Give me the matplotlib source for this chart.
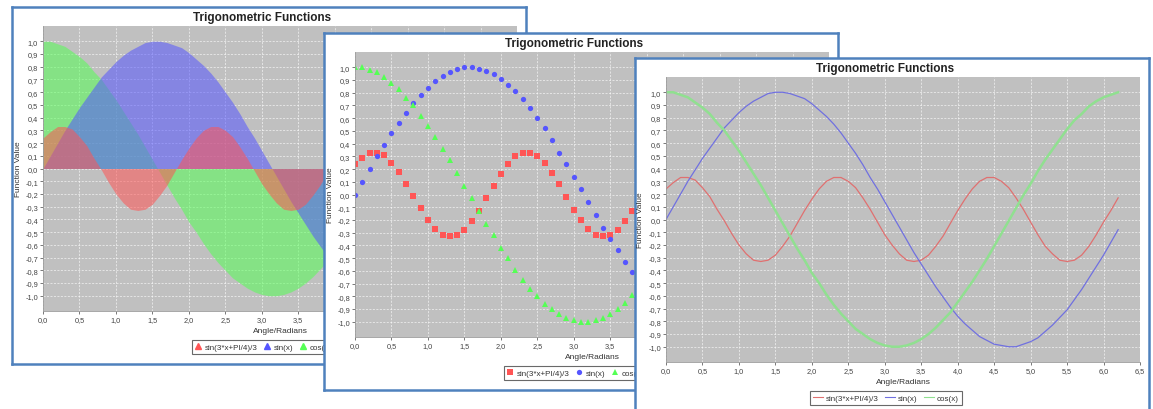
import matplotlib.pyplot as plt
from matplotlib.lines import Line2D

plt.rcParams['font.family'] = ['Liberation Sans', 'DejaVu Sans']

# values (x step 0.1 from 0.0 to 6.2)
x = [0.0, 0.1, 0.2, 0.3, 0.4, 0.5, 0.6, 0.7, 0.8, 0.9,
     1.0, 1.1, 1.2, 1.3, 1.4, 1.5, 1.6, 1.7, 1.8, 1.9,
     2.0, 2.1, 2.2, 2.3, 2.4, 2.5, 2.6, 2.7, 2.8, 2.9,
     3.0, 3.1, 3.2, 3.3, 3.4, 3.5, 3.6, 3.7, 3.8, 3.9,
     4.0, 4.1, 4.2, 4.3, 4.4, 4.5, 4.6, 4.7, 4.8, 4.9,
     5.0, 5.1, 5.2, 5.3, 5.4, 5.5, 5.6, 5.7, 5.8, 5.9,
     6.0, 6.1, 6.2]

sin3 = [0.24, 0.29, 0.33, 0.33, 0.31, 0.25, 0.18, 0.08, -0.01, -0.11,
        -0.20, -0.27, -0.32, -0.33, -0.32, -0.28, -0.21, -0.13, -0.03, 0.07,
        0.16, 0.24, 0.30, 0.33, 0.33, 0.30, 0.25, 0.17, 0.08, -0.02,
        -0.12, -0.20, -0.27, -0.32, -0.33, -0.32, -0.28, -0.21, -0.13, -0.03,
        0.07, 0.16, 0.24, 0.30, 0.33, 0.33, 0.30, 0.25, 0.17, 0.08,
        -0.02, -0.12, -0.21, -0.27, -0.32, -0.33, -0.32, -0.28, -0.21, -0.12,
        -0.02, 0.07, 0.17]

sinx = [0.00, 0.10, 0.20, 0.30, 0.39, 0.48, 0.56, 0.64, 0.72, 0.78,
        0.84, 0.89, 0.93, 0.96, 0.99, 1.00, 1.00, 0.99, 0.97, 0.95,
        0.91, 0.86, 0.81, 0.75, 0.68, 0.60, 0.52, 0.43, 0.33, 0.24,
        0.14, 0.04, -0.06, -0.16, -0.26, -0.35, -0.44, -0.53, -0.61, -0.69,
        -0.76, -0.82, -0.87, -0.92, -0.95, -0.98, -0.99, -1.00, -1.00, -0.98,
        -0.96, -0.93, -0.88, -0.83, -0.77, -0.71, -0.63, -0.55, -0.46, -0.37,
        -0.28, -0.18, -0.08]

cosx = [1.00, 1.00, 0.98, 0.96, 0.92, 0.88, 0.83, 0.76, 0.70, 0.62,
        0.54, 0.45, 0.36, 0.27, 0.17, 0.07, -0.03, -0.13, -0.23, -0.32,
        -0.42, -0.50, -0.59, -0.67, -0.74, -0.80, -0.86, -0.90, -0.94, -0.97,
        -0.99, -1.00, -1.00, -0.99, -0.97, -0.94, -0.90, -0.85, -0.79, -0.73,
        -0.65, -0.57, -0.49, -0.40, -0.31, -0.21, -0.11, -0.01, 0.09, 0.19,
        0.28, 0.38, 0.47, 0.55, 0.63, 0.71, 0.78, 0.83, 0.89, 0.93,
        0.96, 0.98, 1.00]

labels = ["sin(3*x+PI/4)/3", "sin(x)", "cos(x)"]
xticks = [0.0, 0.5, 1.0, 1.5, 2.0, 2.5, 3.0, 3.5, 4.0, 4.5, 5.0, 5.5, 6.0, 6.5]
yticks = [-1.0, -0.9, -0.8, -0.7, -0.6, -0.5, -0.4, -0.3, -0.2, -0.1, 0.0,
          0.1, 0.2, 0.3, 0.4, 0.5, 0.6, 0.7, 0.8, 0.9, 1.0]

series = [sin3, sinx, cosx]
colors = ["#ff5555", "#5555ff", "#55ff55"]

W, H = 1153, 410
fig = plt.figure(figsize=(W / 100, H / 100), dpi=100)
fig.patch.set_facecolor("white")


def rect(px, py, w, h):
    return [px / W, 1 - (py + h) / H, w / W, h / H]


PW, PH = 514, 357
PL, PT, AW, AH = 31, 19, 474, 285


def panel(ox, oy, kind, z, covered_from=None):
    frame = fig.add_axes(rect(ox, oy, PW, PH), zorder=z)
    frame.set_facecolor("white")
    frame.set_xticks([])
    frame.set_yticks([])
    for s in frame.spines.values():
        s.set_color("#4f81bd")
        s.set_linewidth(1.8)
    frame.text((PW / 2 - 7) / PW, 1 - 10 / PH, "Trigonometric Functions",
               transform=frame.transAxes, ha="center", va="center",
               fontsize=8.5, fontweight="bold", color="#222222")

    ax = fig.add_axes(rect(ox + PL, oy + PT, AW, AH), zorder=z + 1)
    ax.set_facecolor("#c0c0c0")
    ax.set_xlim(0, 6.5)
    ax.set_ylim(-1.12, 1.12)
    ax.set_xticks(xticks)
    ax.set_yticks(yticks)
    # tick labels lying under the next screenshot are not shown
    ax.set_xticklabels([f"{v:.1f}".replace(".", ",")
                        if covered_from is None or v < covered_from else ""
                        for v in xticks])
    ax.set_yticklabels([f"{v:.1f}".replace(".", ",") for v in yticks])
    ax.tick_params(labelsize=5.3, colors="#444444", length=2, width=0.5, pad=1.5)
    ax.grid(True, color="white", linestyle=(0, (3, 2)), linewidth=0.5, alpha=0.8)
    ax.set_axisbelow(True)
    for s in ax.spines.values():
        s.set_visible(False)
    ax.spines["left"].set_visible(True)
    ax.spines["bottom"].set_visible(True)
    ax.spines["left"].set_color("#999999")
    ax.spines["bottom"].set_color("#999999")
    ax.spines["left"].set_linewidth(0.6)
    ax.spines["bottom"].set_linewidth(0.6)

    ax.text(0.5, -20 / AH, "Angle/Radians", transform=ax.transAxes,
            ha="center", va="center", fontsize=6, color="#333333")
    ax.text(-25 / AW, 0.5, "Function Value", transform=ax.transAxes,
            ha="center", va="center", rotation=90, fontsize=6, color="#333333")

    if kind == "area":
        for i in [2, 1, 0]:
            ax.fill_between(x, 0, series[i], color=colors[i], alpha=0.55,
                            linewidth=0)
        handles = [Line2D([], [], linestyle="none", marker="^", ms=4,
                          color=c) for c in colors]
    elif kind == "scatter":
        markers = ["s", "o", "^"]
        for i in range(3):
            ax.plot(x, series[i], linestyle="none", marker=markers[i], ms=3.8,
                    color=colors[i], markeredgewidth=0)
        handles = [Line2D([], [], linestyle="none", marker=m, ms=3.8,
                          color=c, markeredgewidth=0)
                   for m, c in zip(markers, colors)]
    else:
        lw = [0.9, 0.9, 1.8]
        lc = ["#e07070", "#7070e0", "#90e090"]
        for i in range(3):
            ax.plot(x, series[i], color=lc[i], linewidth=lw[i])
        handles = [Line2D([], [], color=c, linewidth=0.8) for c in lc]

    leg_x = (ox + PW / 2 - 6) / W
    leg_y = 1 - (oy + 340) / H
    leg = ax.legend(handles, labels, ncol=3, loc="center",
                    bbox_to_anchor=(leg_x, leg_y),
                    bbox_transform=fig.transFigure, fontsize=5.8,
                    frameon=True, fancybox=False, handlelength=1.2 if kind == "line" else 0.8,
                    handletextpad=0.4, columnspacing=0.8, borderpad=0.35)
    leg.get_frame().set_edgecolor("#444444")
    leg.get_frame().set_linewidth(0.8)
    for t in leg.get_texts():
        t.set_color("#333333")


panel(12, 8, "area", 1, covered_from=4.0)
panel(324, 34, "scatter", 3, covered_from=4.0)
panel(635, 59, "line", 5)

fig.savefig("out.png", dpi=100)
